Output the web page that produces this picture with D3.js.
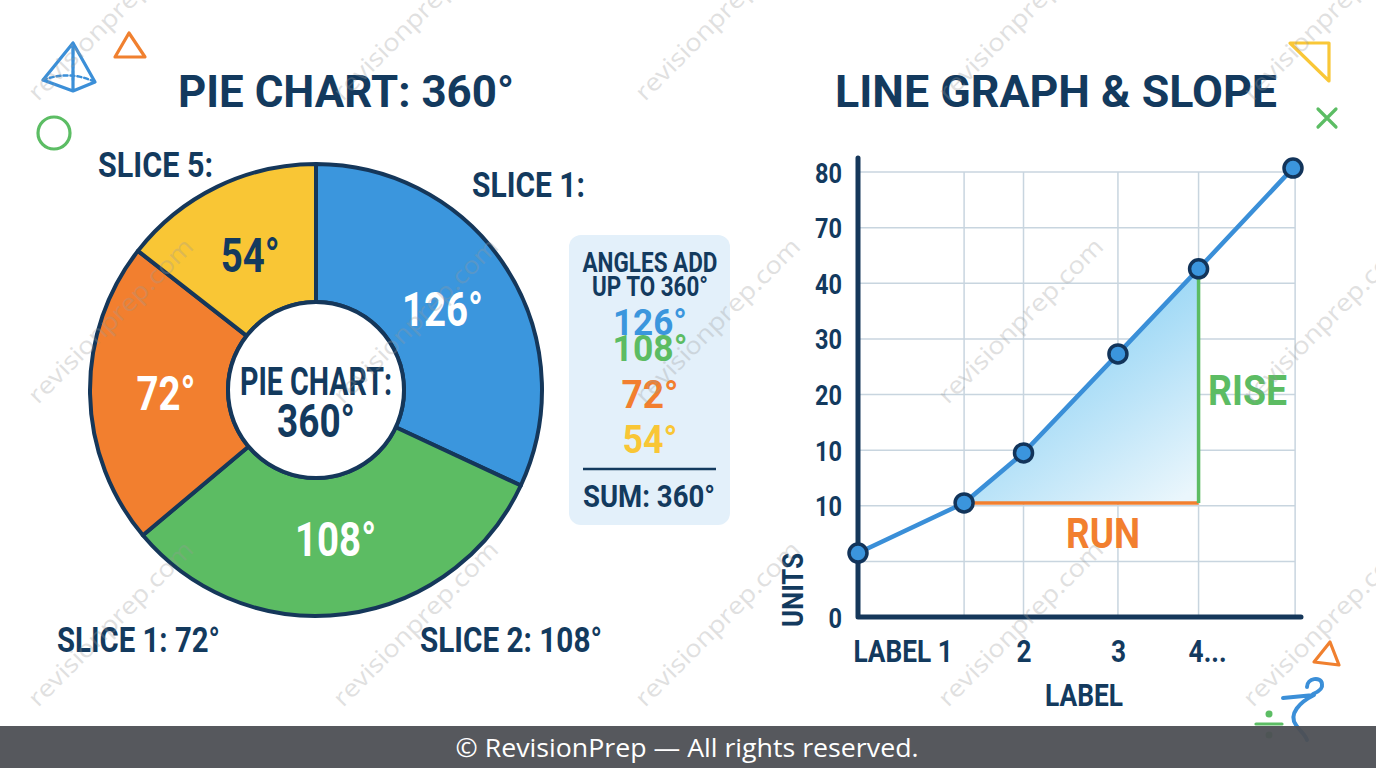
<!DOCTYPE html>
<html>
<head>
    <meta charset="utf-8">
    <script src="https://d3js.org/d3.v7.min.js"></script>
    <style>
        html, body { margin: 0; padding: 0; background: #ffffff; }
        svg { display: block; }
        text { font-family: Roboto, "Liberation Sans", sans-serif; }
        text.bold, .tick text { font-weight: 700; }
        text.thin { font-family: "Open Sans", "Noto Sans", sans-serif; font-weight: 400; }
    </style>
</head>
<body>
    <svg width="1376" height="768"></svg>
    <script>
        // pie slices (arc sizes as drawn, and the degree labels printed on them)
        const sliceNames = ["Slice 1", "Slice 2", "Slice 3", "Slice 4"]
        const sliceSizes = [115, 115, 78, 52]
        const sliceLabels = ["126°", "108°", "72°", "54°"]
        const sliceColors = ["#3b96dd", "#5cbc63", "#f27f2f", "#f9c635"]

        // list in the "angles add up" box
        const boxAngles = ["126°", "108°", "72°", "54°"]

        // line graph (y in grid steps, x in column units)
        const lineX = [0, 1, 1.56, 2.45, 3.21, 4.1]
        const lineY = [1.15, 2.05, 2.95, 4.73, 6.26, 8.07]
        const yTickLabels = ["0", "", "10", "10", "20", "30", "40", "70", "80"]
        const gridX = [1, 1.56, 2.45, 3.21, 4.12]
        const xTickPos = [0.42, 1.56, 2.45, 3.29]
        const xTickLabels = ["LABEL 1", "2", "3", "4..."]

        const navy = "#133a5e"
        const svg = d3.select("svg")

        function label(g, str, x, y, size, color, width, anchor){
            var t = g.append("text")
                .attr("class", "bold")
                .attr("x", x).attr("y", y)
                .attr("font-size", size)
                .attr("fill", color)
                .attr("text-anchor", anchor || "middle")
                .text(str)
            if(width) t.attr("textLength", width).attr("lengthAdjust", "spacingAndGlyphs")
            return t
        }
        // squeeze roboto to look like the condensed face in the picture
        function condense(sel, f){
            sel.each(function(){
                var w = this.getComputedTextLength()
                d3.select(this).attr("textLength", w*f).attr("lengthAdjust", "spacingAndGlyphs")
            })
        }

        // ---------- decorations ----------
        const deco = svg.append("g").attr("fill", "none").attr("stroke-width", 3.2)
            .attr("stroke-linejoin", "round").attr("stroke-linecap", "round")
        deco.append("path").attr("d", "M73,43 L43,80 L73,91 L95,82 Z M73,43 L73,91").attr("stroke", "#3b8fd8")
        deco.append("path").attr("d", "M43,80 Q70,70 95,82 M73,43 L73,80").attr("stroke", "#3b8fd8")
            .attr("stroke-dasharray", "4,3").attr("stroke-width", 2.5)
        deco.append("path").attr("d", "M115,57 L129,33 L145,57 Z").attr("stroke", "#f0802f")
        deco.append("circle").attr("cx", 54).attr("cy", 133).attr("r", 16).attr("stroke", "#5cbd64")
        deco.append("path").attr("d", "M1290,43 L1329,43 L1329,81 Z").attr("stroke", "#f9c737")
        deco.append("path").attr("d", "M1318,109 L1336,127 M1336,109 L1318,127").attr("stroke", "#5cbd64")
        deco.append("path").attr("d", "M1314,662 L1330,642 L1339,665 Z").attr("stroke", "#f0802f")
        deco.append("path").attr("d", "M1307,687 C1307,678 1321,676 1322,684 C1323,689 1318,692 1313,694 M1283,698 L1314,695 C1300,702 1288,714 1296,725 C1300,731 1305,734 1307,740")
            .attr("stroke", "#3b8fd8").attr("stroke-width", 4)
        deco.append("path").attr("d", "M1256,724 L1282,724").attr("stroke", "#5cbd64")
        deco.append("circle").attr("cx", 1269).attr("cy", 714).attr("r", 3.5).attr("fill", "#5cbd64").attr("stroke", "none")
        deco.append("circle").attr("cx", 1269).attr("cy", 735).attr("r", 3.5).attr("fill", "#5cbd64").attr("stroke", "none")

        // ---------- titles ----------
        label(svg, "PIE CHART: 360°", 346, 107, 45, navy, 336)
        label(svg, "LINE GRAPH & SLOPE", 1056, 107, 45, navy, 442)

        // ---------- pie ----------
        const cx = 316, cy = 390
        const pie = d3.pie().sort(null).value(d => d)
        const arcs = pie(sliceSizes)
        const arc = d3.arc().innerRadius(88).outerRadius(226)
        const labelArc = d3.arc().innerRadius(150).outerRadius(150)
        const pg = svg.append("g").attr("transform", `translate(${cx},${cy})`)
        pg.selectAll("path.slice")
            .data(arcs)
            .enter()
            .append("path")
            .attr("class", "slice")
            .attr("d", arc)
            .attr("fill", (d, i) => sliceColors[i])
            .attr("stroke", "#15375a")
            .attr("stroke-width", 4)
            .attr("stroke-linejoin", "round")
        pg.append("circle").attr("r", 88).attr("fill", "#ffffff").attr("stroke", "#15375a").attr("stroke-width", 4)
        pg.selectAll("text.slab")
            .data(arcs)
            .enter()
            .append("text")
            .attr("class", "slab bold")
            .attr("x", d => labelArc.centroid(d)[0])
            .attr("y", d => labelArc.centroid(d)[1] + 17)
            .attr("text-anchor", "middle")
            .attr("font-size", 48)
            .attr("fill", (d, i) => i == 3 ? navy : "#ffffff")
            .text((d, i) => sliceLabels[i])
        condense(pg.selectAll("text.slab"), 0.8)
        label(pg, "PIE CHART:", 0, 5, 38, navy, 152)
        label(pg, "360°", 0, 47, 47, navy, 78)

        label(svg, "SLICE 5:", 98, 177, 35, navy, 115, "start")
        label(svg, "SLICE 1:", 472, 197, 35, navy, 113, "start")
        label(svg, "SLICE 1: 72°", 57, 652, 35, navy, 163, "start")
        label(svg, "SLICE 2: 108°", 420, 652, 35, navy, 182, "start")

        // ---------- sum box ----------
        svg.append("rect").attr("x", 569).attr("y", 235).attr("width", 161).attr("height", 290)
            .attr("rx", 12).attr("fill", "#e3f0fa")
        label(svg, "ANGLES ADD", 650, 272, 27, navy, 135)
        label(svg, "UP TO 360°", 650, 296, 27, navy, 116)
        const boxY = [335, 361, 408, 453]
        const boxW = [74, 75, 57, 55]
        boxAngles.forEach((s, i) => {
            label(svg, s, 650, boxY[i], i < 2 ? 36 : 39, sliceColors[i], boxW[i])
        })
        svg.append("line").attr("x1", 583).attr("x2", 716).attr("y1", 469).attr("y2", 469)
            .attr("stroke", navy).attr("stroke-width", 2.5)
        label(svg, "SUM: 360°", 649, 507, 31, navy, 132)

        // ---------- line graph ----------
        const x = d3.scaleLinear().domain([0, 4.1]).range([858, 1293])
        const y = d3.scaleLinear().domain([0, 8]).range([617, 172])
        const lg = svg.append("g")

        lg.selectAll("line.hgrid")
            .data(d3.range(1, 9))
            .enter()
            .append("line")
            .attr("class", "hgrid")
            .attr("x1", x(0)).attr("x2", x(4.12))
            .attr("y1", d => y(d)).attr("y2", d => y(d))
            .attr("stroke", "#c8d5df").attr("stroke-width", 1.5)
        lg.selectAll("line.vgrid")
            .data(gridX)
            .enter()
            .append("line")
            .attr("class", "vgrid")
            .attr("x1", d => x(d)).attr("x2", d => x(d))
            .attr("y1", y(8)).attr("y2", y(0))
            .attr("stroke", "#c8d5df").attr("stroke-width", 1.5)

        const grad = svg.append("defs").append("linearGradient").attr("id", "tri")
            .attr("x1", 0.2).attr("y1", 0).attr("x2", 0.9).attr("y2", 1)
        grad.append("stop").attr("offset", "0%").attr("stop-color", "#72c7f2")
        grad.append("stop").attr("offset", "100%").attr("stop-color", "#eaf6fc")

        const tri = lineX.slice(1, 5).map((v, i) => [x(v), y(lineY[i + 1])])
        tri.push([x(lineX[4]), y(lineY[1])])
        lg.append("path").attr("d", "M" + tri.join("L") + "Z").attr("fill", "url(#tri)")

        lg.append("line").attr("x1", x(lineX[1])).attr("x2", x(lineX[4]))
            .attr("y1", y(lineY[1])).attr("y2", y(lineY[1]))
            .attr("stroke", "#f27f2f").attr("stroke-width", 3.5)
        lg.append("line").attr("x1", x(lineX[4])).attr("x2", x(lineX[4]))
            .attr("y1", y(lineY[4])).attr("y2", y(lineY[1]))
            .attr("stroke", "#5cbc63").attr("stroke-width", 3.5)

        // axes
        const yAxis = d3.axisLeft(y).tickValues(d3.range(9)).tickSize(0).tickPadding(16)
            .tickFormat(i => yTickLabels[i])
        const ya = lg.append("g").attr("transform", `translate(${x(0)},0)`).call(yAxis)
        ya.select(".domain").remove()
        ya.selectAll("text").attr("font-size", 28).attr("fill", navy).attr("font-family", "Roboto").attr("dy", "0.36em")
        condense(ya.selectAll("text"), 0.84)

        const xAxis = d3.axisBottom(x).tickValues(xTickPos).tickSize(0).tickPadding(22)
            .tickFormat((d, i) => xTickLabels[i])
        const xa = lg.append("g").attr("transform", `translate(0,${y(0)})`).call(xAxis)
        xa.select(".domain").remove()
        xa.selectAll("text").attr("font-size", 32).attr("fill", navy).attr("font-family", "Roboto").attr("dy", "0.71em")
        condense(xa.selectAll("text"), 0.82)

        lg.append("path").attr("d", `M${x(0)},158 L${x(0)},${y(0)} L${x(4.1) + 8},${y(0)}`)
            .attr("fill", "none").attr("stroke", "#15375a").attr("stroke-width", 5)
            .attr("stroke-linecap", "round").attr("stroke-linejoin", "round")

        const pts = lineX.map((v, i) => [v, lineY[i]])
        lg.append("path")
            .datum(pts)
            .attr("d", d3.line().x(d => x(d[0])).y(d => y(d[1])))
            .attr("fill", "none").attr("stroke", "#3a8fd8").attr("stroke-width", 4.5)
        lg.selectAll("circle")
            .data(pts)
            .enter()
            .append("circle")
            .attr("cx", d => x(d[0]))
            .attr("cy", d => y(d[1]))
            .attr("r", 9)
            .attr("fill", "#3b95dd")
            .attr("stroke", "#12345a")
            .attr("stroke-width", 3.5)

        label(svg, "RISE", 1208, 405, 42, "#5cbc63", 79, "start")
        label(svg, "RUN", 1103, 548, 42, "#f27f2f", 74)
        label(svg, "LABEL", 1084, 706, 32, navy, 78)
        label(svg.append("g").attr("transform", "translate(803,590) rotate(-90)"), "UNITS", 0, 0, 29, navy, 74)

        // ---------- watermark ----------
        const wmCols = [38, 343, 645, 948, 1253]
        const wmRows = [102, 405, 708]
        const wm = svg.append("g")
        wmRows.forEach(r => wmCols.forEach(c => {
            wm.append("text")
                .attr("class", "thin")
                .attr("transform", `translate(${c},${r}) rotate(-45)`)
                .attr("font-size", 24)
                .attr("fill", "#9a9a9a")
                .attr("opacity", 0.3)
                .attr("textLength", 222)
                .attr("lengthAdjust", "spacingAndGlyphs")
                .text("revisionprep.com")
        }))

        // ---------- footer ----------
        svg.append("rect").attr("x", 0).attr("y", 726).attr("width", 1376).attr("height", 42)
            .attr("fill", "#4d4f54").attr("opacity", 0.95)
        svg.append("text").attr("class", "thin").attr("x", 687).attr("y", 757).attr("text-anchor", "middle")
            .attr("font-size", 25).attr("fill", "#ffffff")
            .attr("textLength", 463).attr("lengthAdjust", "spacingAndGlyphs")
            .text("© RevisionPrep — All rights reserved.")
    </script>
</body>
</html>
